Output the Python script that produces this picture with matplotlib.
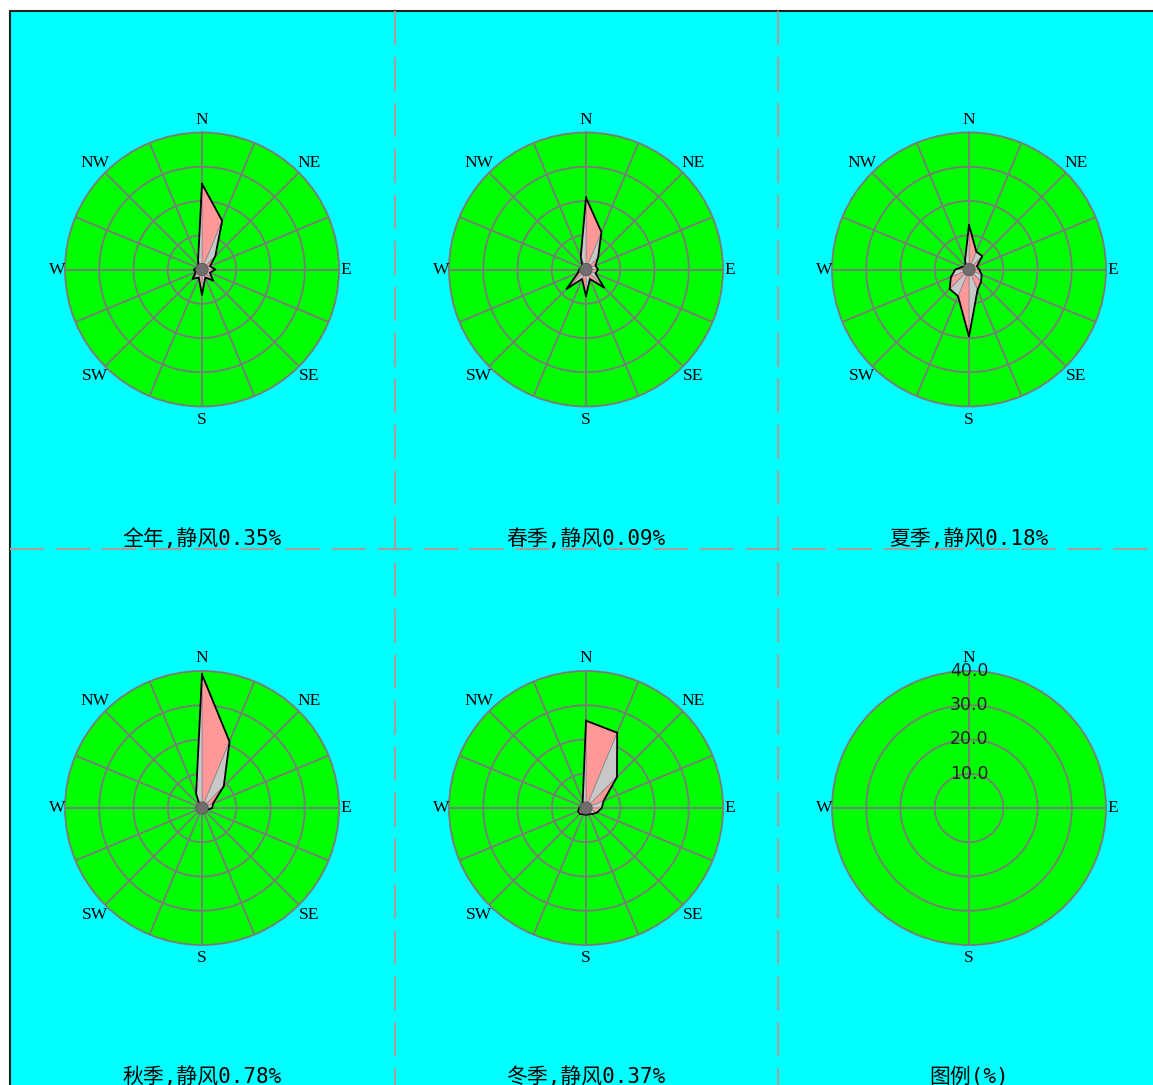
import numpy as np
import matplotlib
matplotlib.use('Agg')
import matplotlib.pyplot as plt
from matplotlib.patches import Rectangle
from matplotlib.lines import Line2D

plt.rcParams['lines.scale_dashes'] = False

# ---------------- data ----------------
directions = ['N', 'NNE', 'NE', 'ENE', 'E', 'ESE', 'SE', 'SSE',
              'S', 'SSW', 'SW', 'WSW', 'W', 'WNW', 'NW', 'NNW']
titles = ['全年,静风0.35%', '春季,静风0.09%', '夏季,静风0.18%',
          '秋季,静风0.78%', '冬季,静风0.37%']
legend_title = '图例(%)'

annual = [25.0, 15.4, 5.5, 2.5, 3.9, 2.5, 4.6, 2.5, 7.4, 2.5, 3.9, 2.0, 2.4, 1.5, 1.5, 3.0]
spring = [21.0, 11.8, 5.0, 3.0, 3.5, 3.0, 7.5, 3.0, 7.8, 3.0, 8.0, 2.5, 2.0, 1.5, 1.5, 4.0]
summer = [13.0, 5.6, 5.5, 2.5, 3.0, 4.0, 5.0, 6.5, 19.6, 8.4, 8.0, 5.7, 4.0, 2.0, 1.5, 3.0]
autumn = [39.0, 21.0, 9.0, 3.5, 3.0, 1.5, 1.5, 1.0, 1.5, 1.0, 1.0, 1.0, 1.0, 1.0, 1.0, 4.5]
winter = [25.5, 23.8, 12.8, 5.6, 4.6, 3.5, 2.5, 2.0, 2.0, 2.0, 2.5, 2.5, 2.0, 1.5, 1.5, 2.5]
series = [annual, spring, summer, autumn, winter]

ring_values = [10, 20, 30, 40]
ring_labels = ['10.0', '20.0', '30.0', '40.0']
rmax = 40

compass_rose = ['N', 'NE', 'E', 'SE', 'S', 'SW', 'W', 'NW']
compass_legend = ['N', 'E', 'S', 'W']

# ---------------- style ----------------
W, H = 1153, 1085
R = 137.0
col_x = [202, 586, 969]
row_y = [269.5, 808]
title_y = [539, 1077]
grid_c = '#7A7A7A'
pink = '#FF9999'
lgray = '#C8C8C8'

def fx(px):
    return px / W

def fy(py):
    return 1 - py / H

fig = plt.figure(figsize=(W / 100, H / 100), dpi=100, facecolor='white')

bg = Rectangle((fx(9.5), -0.05), 1.2, fy(10.5) + 0.05, transform=fig.transFigure,
               facecolor='#00FFFF', edgecolor='#202020', lw=1.5, zorder=-10)
fig.add_artist(bg)

dash = (0, (24.5, 8.6))
for xv in [395, 778]:
    fig.add_artist(Line2D([fx(xv), fx(xv)], [fy(10.5), fy(1100)], transform=fig.transFigure,
                          color='#A0A0A0', lw=1.5, linestyle=dash, zorder=-5))
fig.add_artist(Line2D([fx(10), fx(1160)], [fy(549), fy(549)], transform=fig.transFigure,
                      color='#A0A0A0', lw=1.5, linestyle=dash, zorder=-5))

theta16 = np.deg2rad(np.arange(16) * 22.5)
tt = np.linspace(0, 2 * np.pi, 361)
px2r = rmax / R


def make_axes(cx, cy):
    ax = fig.add_axes([fx(cx - R), fy(cy + R), 2 * R / W, 2 * R / H], projection='polar')
    ax.set_theta_zero_location('N')
    ax.set_theta_direction(-1)
    ax.set_facecolor('#00FF00')
    ax.grid(False)
    ax.set_xticks([])
    ax.set_yticks([])
    ax.spines['polar'].set_color(grid_c)
    ax.spines['polar'].set_linewidth(1.3)
    return ax


def label_dirs(ax, labels):
    ang = {'N': 0, 'NE': 45, 'E': 90, 'SE': 135, 'S': 180, 'SW': 225, 'W': 270, 'NW': 315}
    rad = {'N': 150, 'S': 150, 'E': 144, 'W': 145, 'NE': 151, 'SE': 151, 'SW': 151, 'NW': 151}
    for lb in labels:
        ax.text(np.deg2rad(ang[lb]), rad[lb] * px2r, lb, ha='center', va='center',
                fontsize=12.5, family='Liberation Serif', color='black', clip_on=False, zorder=10)


positions = [(col_x[0], row_y[0]), (col_x[1], row_y[0]), (col_x[2], row_y[0]),
             (col_x[0], row_y[1]), (col_x[1], row_y[1])]
title_pos = [(col_x[0], title_y[0]), (col_x[1], title_y[0]), (col_x[2], title_y[0]),
             (col_x[0], title_y[1]), (col_x[1], title_y[1])]

for vals, (cx, cy), (tx, ty), title in zip(series, positions, title_pos, titles):
    ax = make_axes(cx, cy)
    for th in theta16:
        ax.plot([th, th], [0, rmax], color=grid_c, lw=1.3, zorder=1)
    for rv in ring_values[:-1]:
        ax.plot(tt, np.full_like(tt, rv), color=grid_c, lw=1.3, zorder=1)
    v = np.asarray(vals, dtype=float)
    for i in range(16):
        j = (i + 1) % 16
        ax.fill([0, theta16[i], theta16[j]], [0, v[i], v[j]],
                facecolor=pink if i % 2 == 0 else lgray, edgecolor=grid_c, lw=0.4, zorder=3)
    ax.plot(np.append(theta16, theta16[0]), np.append(v, v[0]), color='black', lw=1.3, zorder=4)
    ax.fill(tt, np.full_like(tt, 1.8), facecolor='#6E6E6E', edgecolor='#505050', lw=0.5, zorder=5)
    ax.set_ylim(0, rmax)
    label_dirs(ax, compass_rose)
    fig.text(fx(tx), fy(ty), title, ha='center', va='center', fontsize=15,
             family=['DejaVu Sans Mono', 'Noto Sans CJK SC'], color='black')

# legend panel
ax = make_axes(col_x[2], row_y[1])
for th in np.deg2rad([0, 90, 180, 270]):
    ax.plot([th, th], [0, rmax], color=grid_c, lw=1.3, zorder=1)
for rv in ring_values[:-1]:
    ax.plot(tt, np.full_like(tt, rv), color=grid_c, lw=1.3, zorder=1)
ax.set_ylim(0, rmax)
for rv, lb in zip(ring_values, ring_labels):
    ax.text(0, rv, lb, ha='center', va='center', fontsize=12.5, family='DejaVu Sans',
            color='#202020', clip_on=False, zorder=6)
label_dirs(ax, compass_legend)
fig.text(fx(col_x[2]), fy(title_y[1]), legend_title, ha='center', va='center', fontsize=15,
         family=['DejaVu Sans Mono', 'Noto Sans CJK SC'], color='black')

fig.savefig('out.png', dpi=100, facecolor='white')
